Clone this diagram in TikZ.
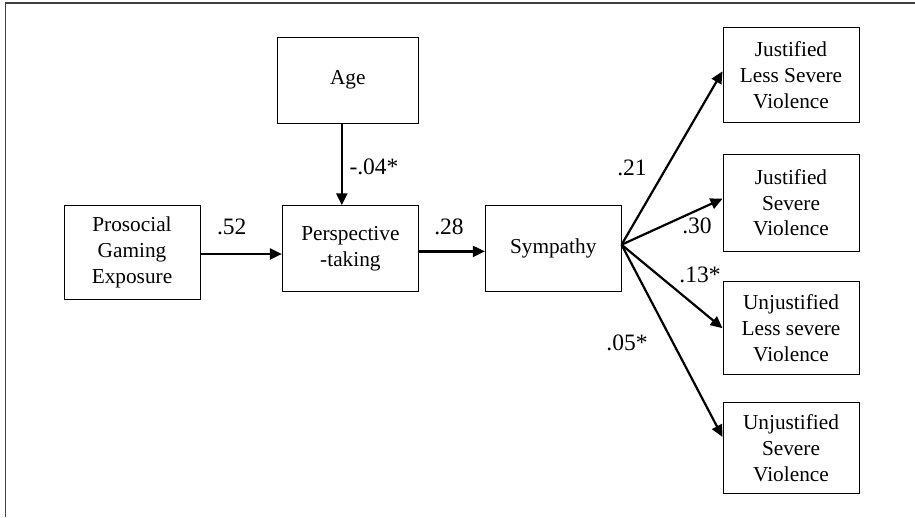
\documentclass[tikz,border=0pt]{standalone}
\usepackage{fontspec}
\setmainfont{Liberation Serif}
\usetikzlibrary{arrows.meta}

\begin{document}
\begin{tikzpicture}[x=1pt,y=-1pt,
  box/.style={draw,line width=1pt,align=center,inner sep=0pt,font=\fontsize{21.3}{25.7}\selectfont},
  coef/.style={inner sep=0pt,font=\fontsize{23.5}{28}\selectfont},
  link/.style={line width=2.2pt,->,>={Triangle[length=12pt,width=11pt]}}]
\useasboundingbox (0,0) rectangle (915,517);
\draw[black!75,line width=1.8pt] (5.5,517) -- (5.5,3) -- (915,3);

% boxes
\node[box,minimum width=136pt,minimum height=93.6pt] (pro) at (132,252.5) {Prosocial\\Gaming\\Exposure};
\node[box,minimum width=141pt,minimum height=85.7pt] (age) at (347.8,80.2) {Age};
\node[box,minimum width=136pt,minimum height=85.3pt] (per) at (350.4,248.4) {Perspective\\-taking};
\node[box,minimum width=135.7pt,minimum height=86pt] (sym) at (553.2,248.7) {Sympathy};
\node[box,minimum width=136pt,minimum height=95.3pt] (j1) at (791,75.3) {Justified\\Less Severe\\Violence};
\node[box,minimum width=136pt,minimum height=96.7pt] (j2) at (791,202.7) {Justified\\Severe\\Violence};
\node[box,minimum width=136pt,minimum height=93pt] (j3) at (791,328.2) {Unjustified\\Less severe\\Violence};
\node[box,minimum width=136pt,minimum height=91.4pt] (j4) at (791,448) {Unjustified\\Severe\\Violence};

% paths
\draw[link] ([yshift=-1.5pt]pro.east) -- ([yshift=-1.5pt]pro.east -| per.west);
\draw[link] ([yshift=-3pt]per.east) -- ([yshift=-3pt]per.east -| sym.west);
\draw[link] ([xshift=-6pt]age.south) -- ([xshift=-6pt]age.south |- per.north);
\foreach \b/\s in {j1/4,j2/4,j3/0,j4/11} {
 \draw[link] ([yshift=4pt]sym.east) -- ([yshift=\s pt]\b.west);
}

% coefficients
\node[coef] (c52) at (231.7,226.7) {.52};
\node[coef] (c28) at (449,226.7) {.28};
\node[coef] (c04) at (374,166.7) {-.04*};
\node[coef] (c21) at (632,167.7) {.21};
\node[coef] (c30) at (697,226) {.30};
\node[coef] (c13) at (700,275) {.13*};
\node[coef] (c05) at (627,343.3) {.05*};
\end{tikzpicture}
\end{document}
